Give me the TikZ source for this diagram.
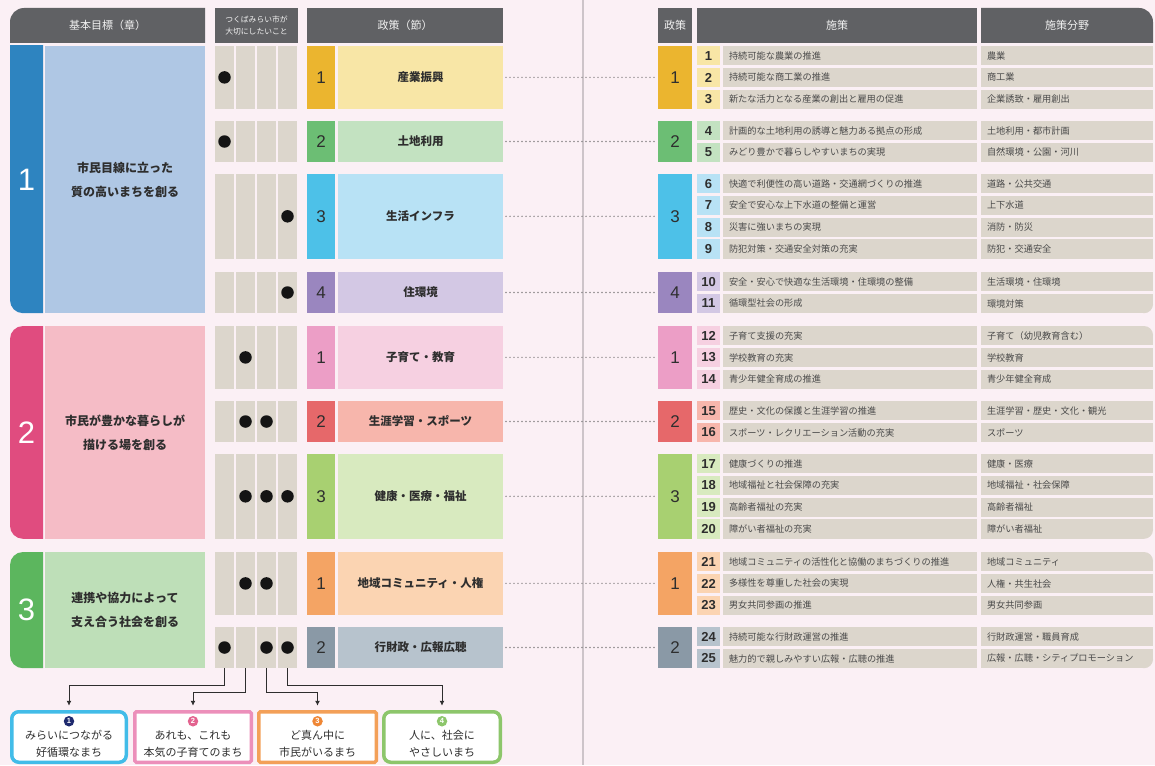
\documentclass[tikz,border=0pt]{standalone}
\usepackage{fontspec}
\setmainfont{Liberation Sans}
\newfontfamily\jp{Noto Sans CJK JP}
\usetikzlibrary{positioning,arrows.meta}

\definecolor{bgpink}{HTML}{FBF0F5}
\definecolor{hdrgray}{HTML}{606164}
\definecolor{hdrtext}{HTML}{F2F2F2}
\definecolor{cellgray}{HTML}{DCD6CC}
\definecolor{txtdark}{HTML}{2E2E2E}
\definecolor{txtmid}{HTML}{4A4A4A}
\definecolor{dotgray}{HTML}{8E8A8C}
\definecolor{divgray}{HTML}{CDC4C9}
\definecolor{gadark}{HTML}{2E84C0}
\definecolor{galight}{HTML}{AFC7E4}
\definecolor{gbdark}{HTML}{E04C7F}
\definecolor{gblight}{HTML}{F5BCC6}
\definecolor{gcdark}{HTML}{5CB65E}
\definecolor{gclight}{HTML}{BEDFB8}
\definecolor{pa}{HTML}{EBB52F}
\definecolor{pal}{HTML}{F8E6A6}
\definecolor{pb}{HTML}{6CBE74}
\definecolor{pbl}{HTML}{C3E2C1}
\definecolor{pc}{HTML}{4DC1E8}
\definecolor{pcl}{HTML}{B8E2F5}
\definecolor{pd}{HTML}{9A86BF}
\definecolor{pdl}{HTML}{D3C8E4}
\definecolor{pe}{HTML}{EC9EC6}
\definecolor{pel}{HTML}{F6D0E1}
\definecolor{pf}{HTML}{E6686A}
\definecolor{pfl}{HTML}{F7B6AC}
\definecolor{pg}{HTML}{A8D071}
\definecolor{pgl}{HTML}{D8EABF}
\definecolor{ph}{HTML}{F4A464}
\definecolor{phl}{HTML}{FBD4B2}
\definecolor{pi}{HTML}{8A99A6}
\definecolor{pil}{HTML}{B7C3CD}
\definecolor{wa}{HTML}{42BCE8}
\definecolor{wan}{HTML}{1F2A6E}
\definecolor{wb}{HTML}{EC8FBA}
\definecolor{wbn}{HTML}{E3638F}
\definecolor{wc}{HTML}{F3A058}
\definecolor{wcn}{HTML}{EF8634}
\definecolor{wd}{HTML}{8DC66B}
\definecolor{wdn}{HTML}{8DC66B}

\begin{document}
\begin{tikzpicture}[x=1pt,y=-1pt,
    box/.style={anchor=north west,inner sep=0pt,outer sep=0pt},
    hdr/.style={box,text=hdrtext,font=\jp\fontsize{11}{13}\selectfont,minimum height=35pt},
    goaltext/.style={box,minimum width=160pt,align=center,text=txtdark,font=\jp\bfseries\fontsize{12}{24}\selectfont},
    goalnum/.style={text=white,font=\fontsize{31}{31}\selectfont},
    strip/.style={box,fill=cellgray,minimum width=19pt},
    dotmark/.style={circle,fill=black!92,inner sep=0pt,minimum size=12.5pt},
    numbox/.style={box,minimum width=28pt,text=txtdark,font=\fontsize{17}{17}\selectfont},
    polbox/.style={box,minimum width=165pt,text=txtdark,font=\jp\bfseries\fontsize{11.5}{13}\selectfont},
    dotline/.style={dotgray,line width=1.6pt,line cap=round,dash pattern=on 0pt off 4pt,shorten <=3pt,shorten >=2pt},
    inum/.style={box,minimum width=23pt,minimum height=19.4pt,text=txtdark,font=\bfseries\fontsize{13}{13}\selectfont},
    itext/.style={box,fill=cellgray,minimum height=19.4pt,text width=242pt,inner xsep=6pt,align=left,text=txtmid,font=\jp\fontsize{9.2}{11}\selectfont},
    ifield/.style={itext,text width=160pt},
    wish/.style={anchor=north west,line width=3.5pt,fill=white,minimum height=50.5pt,outer sep=0pt},
    wishnum/.style={circle,inner sep=0pt,minimum size=10.5pt,text=white,font=\bfseries\fontsize{7.5}{7.5}\selectfont},
    wishtext/.style={align=center,text=txtdark,font=\jp\fontsize{11}{17}\selectfont},
    arr/.style={-{Latex[length=5pt,width=5pt]},line width=0.9pt,txtdark,shorten >=6pt}]

  \useasboundingbox[fill=bgpink] (0,0) rectangle (1155,765);
  \draw[divgray,line width=1.2pt] (583,0) -- (583,765);

  % headers
  \begin{scope}
    \clip (10,8) rectangle (205,43);
    \fill[hdrgray,rounded corners=14] (10,8) rectangle (240,80);
  \end{scope}
  \node[hdr,minimum width=195pt] (hgoal) at (10,8) {基本目標（章）};
  \node[hdr,fill=hdrgray,minimum width=83pt,align=center,font=\jp\fontsize{7.8}{12}\selectfont] (hwish) at (215,8) {つくばみらい市が\\大切にしたいこと};
  \node[hdr,fill=hdrgray,minimum width=196pt] (hpolicy) at (307,8) {政策（節）};
  \node[hdr,fill=hdrgray,minimum width=34pt] (hpol) at (658,8) {政策};
  \node[hdr,fill=hdrgray,minimum width=280pt] (hmeasure) at (697,8) {施策};
  \begin{scope}
    \clip (981,8) rectangle (1155,43);
    \fill[hdrgray,rounded corners=14] (940,8) rectangle (1153,80);
  \end{scope}
  \node[hdr,minimum width=172pt] (hfield) at (981,8) {施策分野};

  % goals
  \foreach \g/\yt/\yb/\ext/\dk/\lt/\txt in {
      1/46/313.2/30/gadark/galight/{市民目線に立った\\質の高いまちを創る},
      2/326/538.8/0/gbdark/gblight/{市民が豊かな暮らしが\\描ける場を創る},
      3/552/668.2/0/gcdark/gclight/{連携や協力によって\\支え合う社会を創る}} {
    \begin{scope}
      \clip (10,\yt) rectangle (43,\yb);
      \fill[\dk,rounded corners=13] (10,\yt-\ext) rectangle (80,\yb);
    \end{scope}
    \pgfmathsetmacro\h{\yb-\yt}
    \node[goalnum] (g\g) at (26.5,{(\yt+\yb)/2}) {\g};
    \node[goaltext,fill=\lt,minimum height=\h pt] (gt\g) at (45,\yt) {\txt};
  }

  % policies
  \foreach \k/\yt/\n/\num/\dk/\lt/\lab/\marks in {
      1/46/3/1/pa/pal/産業振興/{1},
      2/121/2/2/pb/pbl/土地利用/{1},
      3/174/4/3/pc/pcl/生活インフラ/{4},
      4/272/2/4/pd/pdl/住環境/{4},
      5/326/3/1/pe/pel/子育て・教育/{2},
      6/401/2/2/pf/pfl/生涯学習・スポーツ/{2,3},
      7/454/4/3/pg/pgl/健康・医療・福祉/{2,3,4},
      8/552/3/1/ph/phl/地域コミュニティ・人権/{2,3},
      9/627/2/2/pi/pil/行財政・広報広聴/{1,3,4}} {
    \pgfmathsetmacro\h{\n*21.8-2.6}
    \foreach \s in {1,...,4}
      \node[strip,minimum height=\h pt] (c\k-\s) at ({215+21*(\s-1)},\yt) {};
    \foreach \s in \marks
      \node[dotmark] (d\k-\s) at (c\k-\s.center) {};
    \node[numbox,fill=\dk,minimum height=\h pt] (pn\k) at (307,\yt) {\num};
    \node[polbox,fill=\lt,minimum height=\h pt] (pl\k) at (338,\yt) {\lab};
    \node[numbox,fill=\dk,minimum width=34pt,minimum height=\h pt] (gn\k) at (658,\yt) {\num};
    \draw[dotline] (pl\k.east) -- (gn\k.west);
  }

  % measures
  \foreach \i/\y/\lt/\txt/\fld in {
      1/46/pal/持続可能な農業の推進/農業,
      2/67.8/pal/持続可能な商工業の推進/商工業,
      3/89.6/pal/新たな活力となる産業の創出と雇用の促進/企業誘致・雇用創出,
      4/121/pbl/計画的な土地利用の誘導と魅力ある拠点の形成/土地利用・都市計画,
      5/142.8/pbl/みどり豊かで暮らしやすいまちの実現/自然環境・公園・河川,
      6/174/pcl/快適で利便性の高い道路・交通網づくりの推進/道路・公共交通,
      7/195.8/pcl/安全で安心な上下水道の整備と運営/上下水道,
      8/217.6/pcl/災害に強いまちの実現/消防・防災,
      9/239.4/pcl/防犯対策・交通安全対策の充実/防犯・交通安全,
      10/272/pdl/安全・安心で快適な生活環境・住環境の整備/生活環境・住環境,
      11/293.8/pdl/循環型社会の形成/環境対策,
      12/326/pel/子育て支援の充実/子育て（幼児教育含む）,
      13/347.8/pel/学校教育の充実/学校教育,
      14/369.6/pel/青少年健全育成の推進/青少年健全育成,
      15/401/pfl/歴史・文化の保護と生涯学習の推進/生涯学習・歴史・文化・観光,
      16/422.8/pfl/スポーツ・レクリエーション活動の充実/スポーツ,
      17/454/pgl/健康づくりの推進/健康・医療,
      18/475.8/pgl/地域福祉と社会保障の充実/地域福祉・社会保障,
      19/497.6/pgl/高齢者福祉の充実/高齢者福祉,
      20/519.4/pgl/障がい者福祉の充実/障がい者福祉,
      21/552/phl/地域コミュニティの活性化と協働のまちづくりの推進/地域コミュニティ,
      22/573.8/phl/多様性を尊重した社会の実現/人権・共生社会,
      23/595.6/phl/男女共同参画の推進/男女共同参画,
      24/627/pil/持続可能な行財政運営の推進/行財政運営・職員育成,
      25/648.8/pil/魅力的で親しみやすい広報・広聴の推進/広報・広聴・シティプロモーション} {
    \node[inum,fill=\lt] (in\i) at (697,\y) {\i};
    \node[itext] (it\i) at (723,\y) {\txt};
    \node[ifield] (if\i) at (981,\y) {\fld};
  }
  % rounded ends of the field column
  \foreach \yc/\sg in {313.2/-1,326/1,538.8/-1,552/1,668.2/-1} {
    \fill[bgpink] (1144,\yc) rectangle (1154,{\yc+9*(\sg)});
    \fill[cellgray] (1144,{\yc+9*(\sg)}) circle (9);
  }

  % what the city values
  \foreach \v/\xa/\w/\rc/\bc/\cc/\txt in {
      1/11.75/114.5/7/wa/wan/{みらいにつながる\\好循環なまち},
      2/134.75/116.5/1.5/wb/wbn/{あれも、これも\\本気の子育てのまち},
      3/258.75/117.5/1.5/wc/wcn/{ど真ん中に\\市民がいるまち},
      4/383.75/116.5/7/wd/wdn/{人に、社会に\\やさしいまち}} {
    \node[wish,draw=\bc,minimum width=\w pt,rounded corners=\rc] (v\v) at (\xa,711.75) {};
    \node[wishnum,fill=\cc] (m\v) at ([yshift=-9.5pt]v\v.north) {\v};
    \node[wishtext] (vt\v) at ([yshift=-32pt]v\v.north) {\txt};
  }
  \draw[arr] (c9-1.south) -- ++(0,17) -| (v1.north);
  \draw[arr] (c9-2.south) -- ++(0,24) -| (v2.north);
  \draw[arr] (c9-3.south) -- ++(0,24) -| (v3.north);
  \draw[arr] (c9-4.south) -- ++(0,17) -| (v4.north);
\end{tikzpicture}
\end{document}
